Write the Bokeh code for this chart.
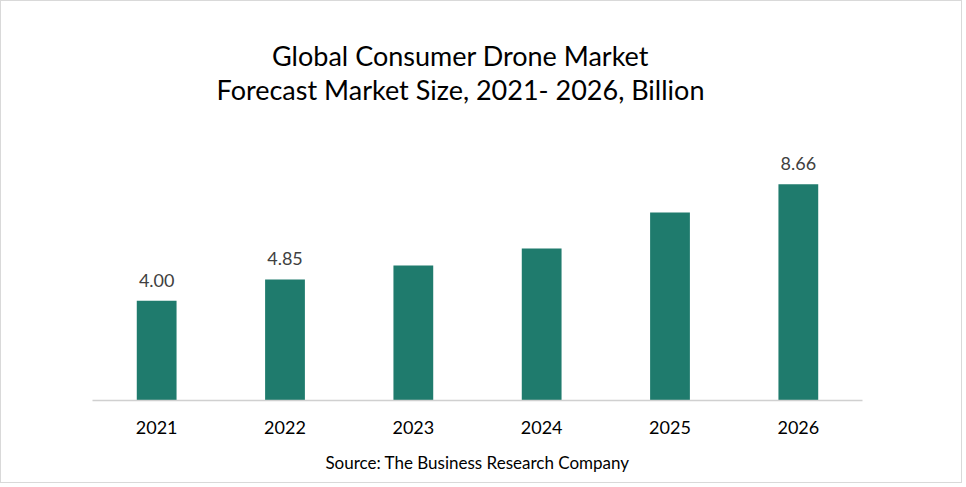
from bokeh.plotting import figure
from bokeh.models import ColumnDataSource, Label, LabelSet
from bokeh.core.properties import value
from bokeh.embed import file_html
from bokeh.resources import INLINE

# data
years = ["2021", "2022", "2023", "2024", "2025", "2026"]
market_size = [4.00, 4.85, 5.41, 6.09, 7.53, 8.66]
value_labels = ["4.00", "4.85", "", "", "", "8.66"]

title_lines = ["Global Consumer Drone Market", "Forecast Market Size, 2021- 2026, Billion"]
source_note = "Source: The Business Research Company"

BAR_COLOR = "#1f7b6d"
FONT = "Lato"

source = ColumnDataSource(data=dict(year=years, size=market_size, label=value_labels))

# the frame reaches up into the title area so the title lines can live inside it
p = figure(x_range=years, y_range=(0, 14.78), width=962, height=483,
           output_backend="svg", toolbar_location=None,
           min_border_left=91, min_border_right=101, min_border_top=30, min_border_bottom=84)
p.styles = {"border": "1px solid #d9d9d9"}

# title lines, in pixels from the frame's bottom-left corner
for i, line in enumerate(title_lines):
    p.add_layout(Label(x=368, y=345 - 34 * i, x_units="screen", y_units="screen", text=line,
                       text_align="center", text_baseline="middle", text_font=FONT,
                       text_font_size="27px", text_color="#000000"))

p.vbar(x="year", top="size", width=0.31, source=source, fill_color=BAR_COLOR, line_color=None)

labels = LabelSet(x="year", y="size", text="label", source=source, text_align="center",
                  text_baseline="bottom", y_offset=14, text_font=value(FONT),
                  text_font_size=value("18px"), text_color="#404040")
p.add_layout(labels)

p.xaxis.axis_line_color = "#d0d0d0"
p.xaxis.axis_line_width = 1.5
p.xaxis.major_tick_line_color = None
p.xaxis.minor_tick_line_color = None
p.xaxis.major_label_text_font = FONT
p.xaxis.major_label_text_font_size = "18px"
p.xaxis.major_label_text_color = "#000000"
p.xaxis.major_label_standoff = 14
p.xaxis.axis_label = source_note
p.xaxis.axis_label_text_font = FONT
p.xaxis.axis_label_text_font_size = "17px"
p.xaxis.axis_label_text_font_style = "normal"
p.xaxis.axis_label_text_color = "#000000"
p.xaxis.axis_label_standoff = 15
p.yaxis.visible = False

p.xgrid.grid_line_color = None
p.ygrid.grid_line_color = None
p.outline_line_color = None
p.background_fill_color = "white"
p.border_fill_color = "white"
p.x_range.range_padding = 0

open("out.html", "w").write(file_html(p, INLINE))
